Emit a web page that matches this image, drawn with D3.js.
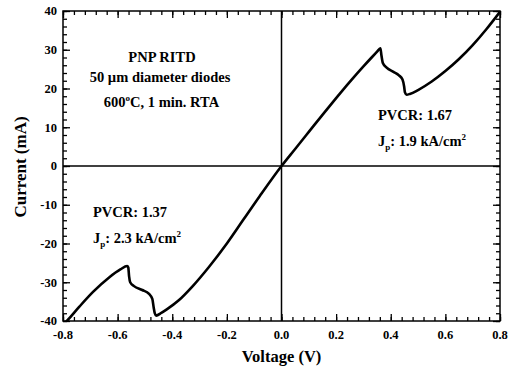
<!DOCTYPE html>
<html>
<head>
<meta charset="utf-8">
<script src="https://cdn.jsdelivr.net/npm/d3@7"></script>
<style>
  html, body { margin: 0; padding: 0; background: #fff; }
  svg text { font-family: "Liberation Serif", "Times New Roman", serif; font-weight: bold; fill: #000; }
</style>
</head>
<body>
<svg id="chart" width="508" height="368"></svg>
<script>
// ---- data ----
const voltage = [-0.80, -0.786, -0.74, -0.69, -0.63, -0.59, -0.565, -0.561, -0.558, -0.554, -0.54, -0.51, -0.485, -0.473, -0.468, -0.464, -0.459, -0.44, -0.42, -0.375, -0.325, -0.265, -0.20, -0.14, -0.08, 0,
  0.05, 0.10, 0.15, 0.20, 0.25, 0.30, 0.33, 0.35, 0.362, 0.366, 0.371, 0.385, 0.41, 0.43, 0.443, 0.449, 0.452, 0.458, 0.47, 0.50, 0.55, 0.60, 0.65, 0.70, 0.75, 0.80];
const current = [-41, -40, -36.3, -32.5, -28.7, -26.7, -25.8, -26.2, -28.5, -30.0, -31.0, -32.0, -33.0, -34.3, -36.5, -38.0, -38.6, -37.9, -37.0, -34.6, -31.0, -26.0, -20.0, -13.9, -7.8, 0,
  4.4, 8.8, 13.2, 17.5, 21.7, 25.7, 28.0, 29.5, 30.4, 28.5, 26.6, 25.4, 24.3, 23.4, 22.3, 20.5, 19.0, 18.4, 18.6, 19.6, 21.8, 24.5, 27.6, 31.2, 35.3, 39.8];
const xMajorTicks = [-0.8, -0.6, -0.4, -0.2, 0.0, 0.2, 0.4, 0.6, 0.8];
const xTickLabels = ["-0.8", "-0.6", "-0.4", "-0.2", "0.0", "0.2", "0.4", "0.6", "0.8"];
const yMajorTicks = [-40, -30, -20, -10, 0, 10, 20, 30, 40];
const yTickLabels = ["-40", "-30", "-20", "-10", "0", "10", "20", "30", "40"];
const xMinorStep = 0.04;
const yMinorStep = 2;

// ---- layout ----
const svg = d3.select("#chart");
const L = 63, R = 500, T = 11, B = 321;
const x = d3.scaleLinear().domain([-0.8, 0.8]).range([L, R]);
const y = d3.scaleLinear().domain([-40, 40]).range([B, T]);

const xMinor = d3.range(-0.8, 0.8001, xMinorStep).map(v => +v.toFixed(3));
const yMinor = d3.range(-40, 40.001, yMinorStep);

function styleAxis(g) {
  g.select(".domain").remove();
  g.selectAll(".tick line").attr("stroke", "#000").attr("stroke-width", 1.3);
  g.selectAll("text").remove();
}

// minor ticks on all sides
svg.append("g").attr("transform", `translate(0,${B})`)
  .call(d3.axisBottom(x).tickValues(xMinor).tickSizeInner(-4).tickSizeOuter(0)).call(styleAxis);
svg.append("g").attr("transform", `translate(0,${T})`)
  .call(d3.axisTop(x).tickValues(xMinor).tickSizeInner(-4).tickSizeOuter(0)).call(styleAxis);
svg.append("g").attr("transform", `translate(${L},0)`)
  .call(d3.axisLeft(y).tickValues(yMinor).tickSizeInner(-4).tickSizeOuter(0)).call(styleAxis);
svg.append("g").attr("transform", `translate(${R},0)`)
  .call(d3.axisRight(y).tickValues(yMinor).tickSizeInner(-4).tickSizeOuter(0)).call(styleAxis);
// major ticks
svg.append("g").attr("transform", `translate(0,${B})`)
  .call(d3.axisBottom(x).tickValues(xMajorTicks).tickSizeInner(-7).tickSizeOuter(0)).call(styleAxis);
svg.append("g").attr("transform", `translate(0,${T})`)
  .call(d3.axisTop(x).tickValues(xMajorTicks).tickSizeInner(-7).tickSizeOuter(0)).call(styleAxis);
svg.append("g").attr("transform", `translate(${L},0)`)
  .call(d3.axisLeft(y).tickValues(yMajorTicks).tickSizeInner(-7).tickSizeOuter(0)).call(styleAxis);
svg.append("g").attr("transform", `translate(${R},0)`)
  .call(d3.axisRight(y).tickValues(yMajorTicks).tickSizeInner(-7).tickSizeOuter(0)).call(styleAxis);

// tick labels
svg.append("g").selectAll("text").data(xMajorTicks).join("text")
  .attr("x", d => x(d)).attr("y", B + 17.5).attr("text-anchor", "middle")
  .attr("font-size", 12.5).text((d, i) => xTickLabels[i]);
svg.append("g").selectAll("text").data(yMajorTicks).join("text")
  .attr("x", L - 6).attr("y", d => y(d) + 4.3).attr("text-anchor", "end")
  .attr("font-size", 12.5).text((d, i) => yTickLabels[i]);

// zero lines
svg.append("line").attr("x1", L).attr("x2", R).attr("y1", y(0)).attr("y2", y(0))
  .attr("stroke", "#000").attr("stroke-width", 1.5);
svg.append("line").attr("x1", x(0)).attr("x2", x(0)).attr("y1", T).attr("y2", B)
  .attr("stroke", "#000").attr("stroke-width", 1.5);

// curve
svg.append("clipPath").attr("id", "clip").append("rect")
  .attr("x", L).attr("y", T).attr("width", R - L).attr("height", B - T);
const pts = voltage.map((v, i) => [v, current[i]]);
svg.append("path").datum(pts)
  .attr("clip-path", "url(#clip)")
  .attr("fill", "none").attr("stroke", "#000").attr("stroke-width", 2.6)
  .attr("stroke-linejoin", "round")
  .attr("d", d3.line().x(d => x(d[0])).y(d => y(d[1])).curve(d3.curveMonotoneX));

// frame
svg.append("rect").attr("x", L).attr("y", T).attr("width", R - L).attr("height", B - T)
  .attr("fill", "none").attr("stroke", "#000").attr("stroke-width", 1.5);

// axis titles
svg.append("text").attr("x", (L + R) / 2).attr("y", 362).attr("text-anchor", "middle")
  .attr("font-size", 16.5).text("Voltage (V)");
svg.append("text").attr("transform", `translate(26,${(T + B) / 2 + 1}) rotate(-90)`)
  .attr("text-anchor", "middle").attr("font-size", 17).text("Current (mA)");

// annotations
const ann = svg.append("g").attr("font-size", 14.5);
ann.append("text").attr("x", 162).attr("y", 62).attr("text-anchor", "middle").text("PNP RITD");
ann.append("text").attr("x", 160).attr("y", 82).attr("text-anchor", "middle").text("50 µm diameter diodes");
const t3 = ann.append("text").attr("x", 161.5).attr("y", 106.5).attr("text-anchor", "middle");
t3.append("tspan").text("600");
t3.append("tspan").attr("font-size", 9).attr("dy", -6).text("o");
t3.append("tspan").attr("dy", 6).text("C, 1 min. RTA");

function jpLabel(xp, yp, val) {
  ann.append("text").attr("x", xp).attr("y", yp).text(val[0]);
  const t = ann.append("text").attr("x", xp).attr("y", yp + 26);
  t.append("tspan").text("J");
  t.append("tspan").attr("font-size", 9).attr("dy", 4).text("p");
  t.append("tspan").attr("dy", -4).text(": " + val[1] + " kA/cm");
  t.append("tspan").attr("font-size", 9).attr("dy", -6).text("2");
}
jpLabel(378, 120, ["PVCR: 1.67", "1.9"]);
jpLabel(93, 217, ["PVCR: 1.37", "2.3"]);
</script>
</body>
</html>
